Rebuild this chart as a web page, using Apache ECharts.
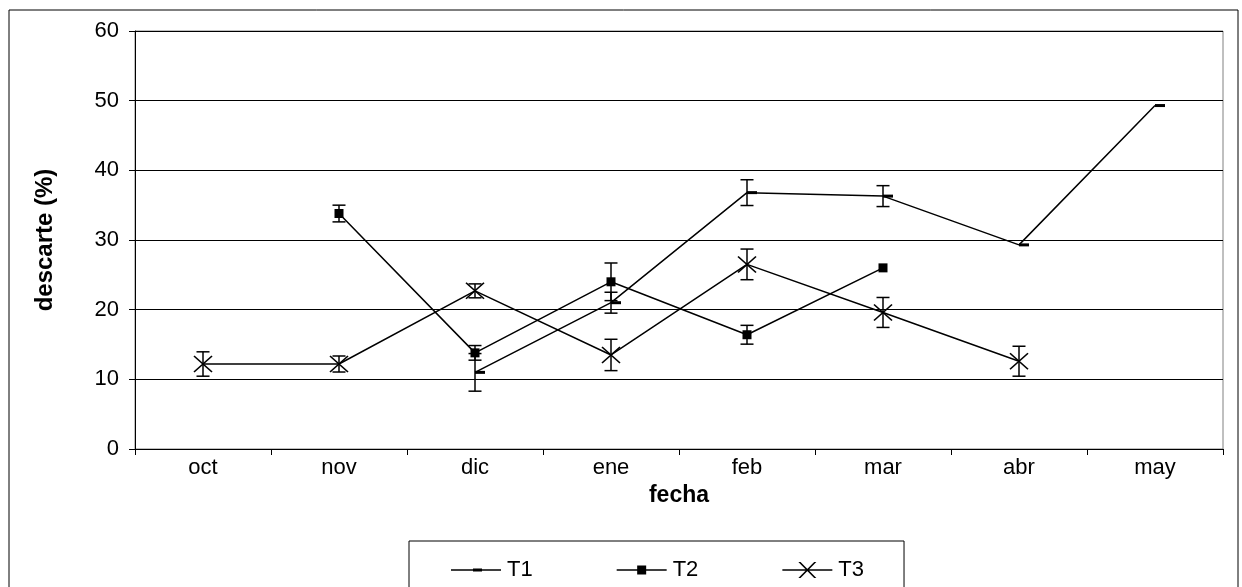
<!DOCTYPE html>
<html><head><meta charset="utf-8">
<script src="https://cdn.jsdelivr.net/npm/echarts@6/dist/echarts.min.js"></script>
<style>html,body{margin:0;padding:0;background:#fff}#c{width:1242px;height:587px}</style>
</head><body><div id="c"></div>
<script>
var categories = ['oct','nov','dic','ene','feb','mar','abr','may'];
var yTicks = [0,10,20,30,40,50,60];
var t1 = [null,null,11.0,21.0,36.8,36.3,29.3,49.3];
var t1Err = [null,null,2.7,1.5,1.85,1.5,0,0];
var t2 = [null,33.8,13.8,24.0,16.4,26.0,null,null];
var t2Err = [null,1.2,1.05,2.7,1.35,0,null,null];
var t3 = [12.2,12.2,22.7,13.5,26.5,19.6,12.6,null];
var t3Err = [1.75,1.15,1.0,2.25,2.2,2.15,2.15,null];

function errData(vals, errs){
  var out=[];
  for(var i=0;i<vals.length;i++){
    if(vals[i]!=null && errs[i]){ out.push([i, vals[i]-errs[i], vals[i]+errs[i]]); }
  }
  return out;
}
function renderErr(params, api){
  var x=api.value(0);
  var lo=api.coord([x, api.value(1)]);
  var hi=api.coord([x, api.value(2)]);
  var w=6.5;
  var st={stroke:'#000', lineWidth:1.5};
  return {type:'group', children:[
    {type:'line', shape:{x1:lo[0],y1:lo[1],x2:hi[0],y2:hi[1]}, style:st},
    {type:'line', shape:{x1:lo[0]-w,y1:lo[1],x2:lo[0]+w,y2:lo[1]}, style:st},
    {type:'line', shape:{x1:hi[0]-w,y1:hi[1],x2:hi[0]+w,y2:hi[1]}, style:st}
  ]};
}
var FONT='Liberation Sans';
var ICON_T1='path://M0,7.25h50v1.5h-50z M22,6.5h9v3h-9z';
var ICON_T2='path://M0,7.25h50v1.5h-50z M20.5,3.5h9v9h-9z';
var ICON_T3='path://M0,7.25h50v1.5h-50z M16,0h2.2L34,16h-2.2z M31.8,0h2.2L18.2,16h-2.2z';
var chart=echarts.init(document.getElementById('c'),null,{renderer:'canvas'});
var lineStyle={color:'#000', width:1.5};
chart.setOption({
  animation:false,
  backgroundColor:'#fff',
  textStyle:{fontFamily:FONT},
  graphic:[{type:'rect', shape:{x:9,y:10,width:1229,height:600}, style:{fill:'none', stroke:'#000', lineWidth:1}, z:-1}],
  grid:{left:135, right:19, top:31, bottom:138, show:true, borderColor:'#808080', borderWidth:1, backgroundColor:'transparent'},
  legend:{
    left:409, top:541, padding:[18,40,16,42], itemGap:84, itemWidth:50, itemHeight:16,
    borderColor:'#000', borderWidth:1, backgroundColor:'#fff',
    itemStyle:{borderWidth:0, color:'#000'},
    textStyle:{fontFamily:FONT, fontSize:22, color:'#000', padding:[0,0,0,1]},
    data:[{name:'T1', icon:ICON_T1},{name:'T2', icon:ICON_T2},{name:'T3', icon:ICON_T3}]
  },
  xAxis:{
    type:'category', data:categories, boundaryGap:true,
    name:'fecha', nameLocation:'middle', nameGap:32,
    nameTextStyle:{fontFamily:FONT, fontSize:23, fontWeight:'bold', color:'#000'},
    axisLine:{lineStyle:{color:'#000', width:1}},
    axisTick:{show:true, interval:0, alignWithLabel:false, length:6, lineStyle:{color:'#000'}},
    axisLabel:{fontFamily:FONT, fontSize:22, color:'#000', margin:8, interval:0},
    splitLine:{show:false}
  },
  yAxis:{
    type:'value', min:0, max:60, interval:10,
    name:'descarte (%)', nameLocation:'middle', nameGap:78, nameRotate:90,
    nameTextStyle:{fontFamily:FONT, fontSize:24, fontWeight:'bold', color:'#000'},
    axisLine:{show:true, lineStyle:{color:'#000', width:1}},
    axisTick:{show:true, length:6, lineStyle:{color:'#000'}},
    axisLabel:{fontFamily:FONT, fontSize:22, color:'#000', margin:16,
      formatter:function(v){return yTicks.indexOf(v)>=0?String(v):'';}},
    splitLine:{show:true, lineStyle:{color:'#000', width:1}}
  },
  series:[
    {name:'T1', type:'line', data:t1, lineStyle:lineStyle,
      symbol:'rect', symbolSize:[10,3], symbolOffset:[5,0], itemStyle:{color:'#000'}, z:3},
    {name:'T2', type:'line', data:t2, lineStyle:lineStyle,
      symbol:'rect', symbolSize:9, itemStyle:{color:'#000'}, z:3},
    {name:'T3', type:'line', data:t3, lineStyle:lineStyle,
      symbol:'path://M0,0L18,16M18,0L0,16', symbolSize:[18,16], symbolKeepAspect:false,
      itemStyle:{color:'#000', borderColor:'#000', borderWidth:1.5}, z:3},
    {type:'custom', renderItem:renderErr, data:errData(t1,t1Err), encode:{x:0,y:[1,2]}, z:4, silent:true},
    {type:'custom', renderItem:renderErr, data:errData(t2,t2Err), encode:{x:0,y:[1,2]}, z:4, silent:true},
    {type:'custom', renderItem:renderErr, data:errData(t3,t3Err), encode:{x:0,y:[1,2]}, z:4, silent:true}
  ]
});
</script></body></html>
